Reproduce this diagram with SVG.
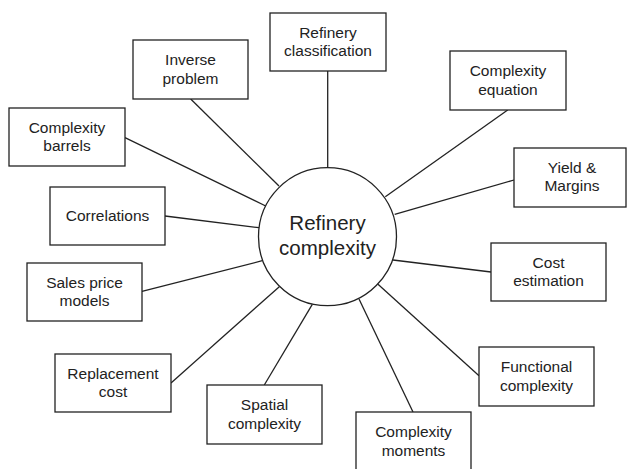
<svg xmlns="http://www.w3.org/2000/svg" width="627" height="469" viewBox="0 0 627 469">
  <style>
    .box { fill: #ffffff; stroke: #222222; stroke-width: 1.3; }
    .hub { fill: #ffffff; stroke: #222222; stroke-width: 1.3; }
    .link { stroke: #222222; stroke-width: 1.3; fill: none; }
    .lbl { font-family: "Liberation Sans", Arial, sans-serif; font-size: 15.5px; fill: #222222; text-anchor: middle; }
    .hubLbl { font-family: "Liberation Sans", Arial, sans-serif; font-size: 20.5px; fill: #222222; text-anchor: middle; }
  </style>
  <rect width="627" height="469" fill="#ffffff"/>

  <!-- spokes from the hub to every topic box -->
  <g id="connectors">
    <line class="link" x1="327.7" y1="71" x2="327.7" y2="167.7"/>
    <line class="link" x1="190.7" y1="99" x2="279" y2="186"/>
    <line class="link" x1="507.7" y1="110" x2="385.3" y2="196.7"/>
    <line class="link" x1="125" y1="137.7" x2="265.7" y2="206"/>
    <line class="link" x1="514" y1="180" x2="394.7" y2="214.3"/>
    <line class="link" x1="165" y1="216" x2="259" y2="227.7"/>
    <line class="link" x1="491" y1="272" x2="393" y2="260"/>
    <line class="link" x1="142" y1="291.3" x2="262.3" y2="260.7"/>
    <line class="link" x1="479" y1="375.7" x2="378" y2="284.3"/>
    <line class="link" x1="171" y1="383" x2="279.3" y2="286.7"/>
    <line class="link" x1="264.3" y1="385" x2="312.3" y2="304.3"/>
    <line class="link" x1="413" y1="412" x2="359" y2="299"/>
  </g>

  <g id="hub">
    <circle class="hub" cx="327.5" cy="236.7" r="69"/>
    <text class="hubLbl" x="327.5" y="230">Refinery</text>
    <text class="hubLbl" x="327.5" y="254.5">complexity</text>
  </g>

  <g id="refinery-classification">
    <rect class="box" x="270" y="13" width="116" height="58"/>
    <text class="lbl" x="328" y="37.5">Refinery</text>
    <text class="lbl" x="328" y="56">classification</text>
  </g>

  <g id="inverse-problem">
    <rect class="box" x="133" y="40" width="115" height="59"/>
    <text class="lbl" x="190.5" y="65">Inverse</text>
    <text class="lbl" x="190.5" y="83.5">problem</text>
  </g>

  <g id="complexity-equation">
    <rect class="box" x="450" y="51" width="116" height="59"/>
    <text class="lbl" x="508" y="76">Complexity</text>
    <text class="lbl" x="508" y="94.5">equation</text>
  </g>

  <g id="complexity-barrels">
    <rect class="box" x="9" y="108" width="116" height="58"/>
    <text class="lbl" x="67" y="132.5">Complexity</text>
    <text class="lbl" x="67" y="151">barrels</text>
  </g>

  <g id="yield-margins">
    <rect class="box" x="514" y="148" width="112" height="59"/>
    <text class="lbl" x="572" y="172.5">Yield &amp;</text>
    <text class="lbl" x="572" y="191">Margins</text>
  </g>

  <g id="correlations">
    <rect class="box" x="50" y="187" width="115" height="58"/>
    <text class="lbl" x="107.5" y="220.5">Correlations</text>
  </g>

  <g id="cost-estimation">
    <rect class="box" x="491" y="243" width="115" height="58"/>
    <text class="lbl" x="548.5" y="267.5">Cost</text>
    <text class="lbl" x="548.5" y="286">estimation</text>
  </g>

  <g id="sales-price-models">
    <rect class="box" x="27" y="263" width="115" height="58"/>
    <text class="lbl" x="84.5" y="287.5">Sales price</text>
    <text class="lbl" x="84.5" y="306">models</text>
  </g>

  <g id="functional-complexity">
    <rect class="box" x="479" y="347" width="115" height="59"/>
    <text class="lbl" x="536.5" y="372">Functional</text>
    <text class="lbl" x="536.5" y="390.5">complexity</text>
  </g>

  <g id="replacement-cost">
    <rect class="box" x="55" y="354" width="116" height="58"/>
    <text class="lbl" x="113" y="378.5">Replacement</text>
    <text class="lbl" x="113" y="397">cost</text>
  </g>

  <g id="spatial-complexity">
    <rect class="box" x="207" y="385" width="115" height="59"/>
    <text class="lbl" x="264.5" y="410">Spatial</text>
    <text class="lbl" x="264.5" y="428.5">complexity</text>
  </g>

  <g id="complexity-moments">
    <rect class="box" x="356" y="412" width="115" height="59"/>
    <text class="lbl" x="413.5" y="437">Complexity</text>
    <text class="lbl" x="413.5" y="455.5">moments</text>
  </g>
</svg>
